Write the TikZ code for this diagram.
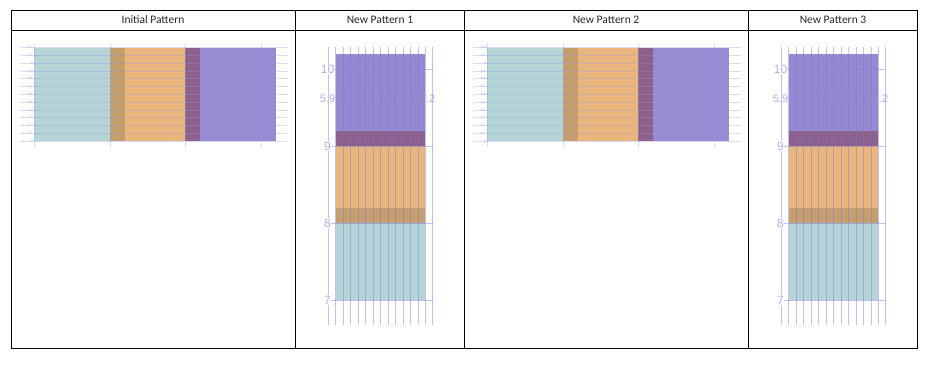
\documentclass[tikz,border=0pt]{standalone}
\usepackage{fontspec}
\setmainfont{Carlito}
\newfontfamily\axisfont{Liberation Sans}
\definecolor{cteal}{RGB}{182,212,214}
\definecolor{cbrown}{RGB}{196,158,108}
\definecolor{corange}{RGB}{234,182,126}
\definecolor{cdkpurple}{RGB}{140,98,140}
\definecolor{cpurple}{RGB}{150,138,208}
\definecolor{cpurplet}{RGB}{142,129,204}
\definecolor{cgrid}{RGB}{150,150,230}
\definecolor{cgridb}{RGB}{120,120,225}
\definecolor{caxis}{RGB}{175,175,232}
\tikzset{
  tbl/.style={draw=black, line width=0.8pt},
  hdr/.style={font=\fontsize{11.5}{13}\selectfont, text=black!85, inner sep=0pt},
  gridi/.style={draw=cgrid, draw opacity=0.35, line width=0.7pt},
  gridn/.style={draw=cgridb, draw opacity=0.45, line width=0.8pt},
  tinylab/.style={font=\axisfont\fontsize{3.6}{4}\selectfont, text=caxis, anchor=east, inner sep=0.3pt},
  ylab/.style={font=\axisfont\fontsize{12}{13}\selectfont, text=caxis, fill=white, inner sep=0.6pt},
  xlab/.style={font=\axisfont\fontsize{11}{12}\selectfont, text=caxis, inner sep=0pt},
}
\newcommand\iniPattern[1]{%
  \fill[cteal] (34,47.5) rectangle (110,141.1);
  \fill[cbrown] (110,47.5) rectangle (125,141.1);
  \fill[corange] (125,47.5) rectangle (185,141.1);
  \fill[cdkpurple] (185,47.5) rectangle (200,141.1);
  \fill[cpurple] (200,47.5) rectangle (276,141.1);
  \foreach \i in {0,...,12} {\draw[gridi] (20,47.5+7.8*\i) -- (288,47.5+7.8*\i);}
  \foreach \xx in {34,110,185,261} {\draw[gridi] (\xx,43) -- (\xx,147);}
  \foreach \v [count=\k from 0] in {9.2,9.1,9,8.9,8.8,8.7,8.6,8.5,8.4,8.3,8.2,8.1,8}
    {\node[tinylab] (#1t\k) at (33.5,47.5+7.8*\k) {\v};}
}
\newcommand\npPattern[1]{%
  \foreach \v/\xx [count=\k] in {5.9/327.5,6.2/348,6.5/368,6.8/388,7.1/408,7.2/427.5}
    {\node[xlab] (#1x\k) at (\xx,98.5) {\v};}
  \fill[cpurplet, fill opacity=0.93] (336,54) rectangle (425,131);
  \fill[cdkpurple] (336,131) rectangle (425,146);
  \fill[corange] (336,146) rectangle (425,208);
  \fill[cbrown] (336,208) rectangle (425,223);
  \fill[cteal] (336,223) rectangle (425,300);
  \foreach \j in {0,...,14} {\draw[gridn] (328.3+7.47*\j,47) -- (328.3+7.47*\j,325);}
  \foreach \yy in {69.5,146,223,300} {\draw[gridn] (328.3,\yy) -- (433,\yy);}
  \foreach \v/\yy in {10/69.5,9/146,8/223,7/300}
    {\node[ylab] (#1y\v) at (327.5,\yy) {\v};}
}
\begin{document}
\begin{tikzpicture}[x=1pt,y=-1pt]
\useasboundingbox (0,0) rectangle (945,367);
\fill[white] (0,0) rectangle (945,367);
% charts
\begin{scope}\iniPattern{a}\end{scope}
\begin{scope}[shift={(453,0)}]\iniPattern{b}\end{scope}
\begin{scope}\npPattern{c}\end{scope}
\begin{scope}[shift={(453,0)}]\npPattern{d}\end{scope}
% table
\draw[tbl] (11,10) rectangle (917,348);
\draw[tbl] (11,30) -- (917,30);
\foreach \xx in {295,464,748} {\draw[tbl] (\xx,10) -- (\xx,348);}
\node[hdr] (h1) at (153,20) {Initial Pattern};
\node[hdr] (h2) at (380,20) {New Pattern 1};
\node[hdr] (h3) at (606,20) {New Pattern 2};
\node[hdr] (h4) at (833,20) {New Pattern 3};
\end{tikzpicture}
\end{document}
